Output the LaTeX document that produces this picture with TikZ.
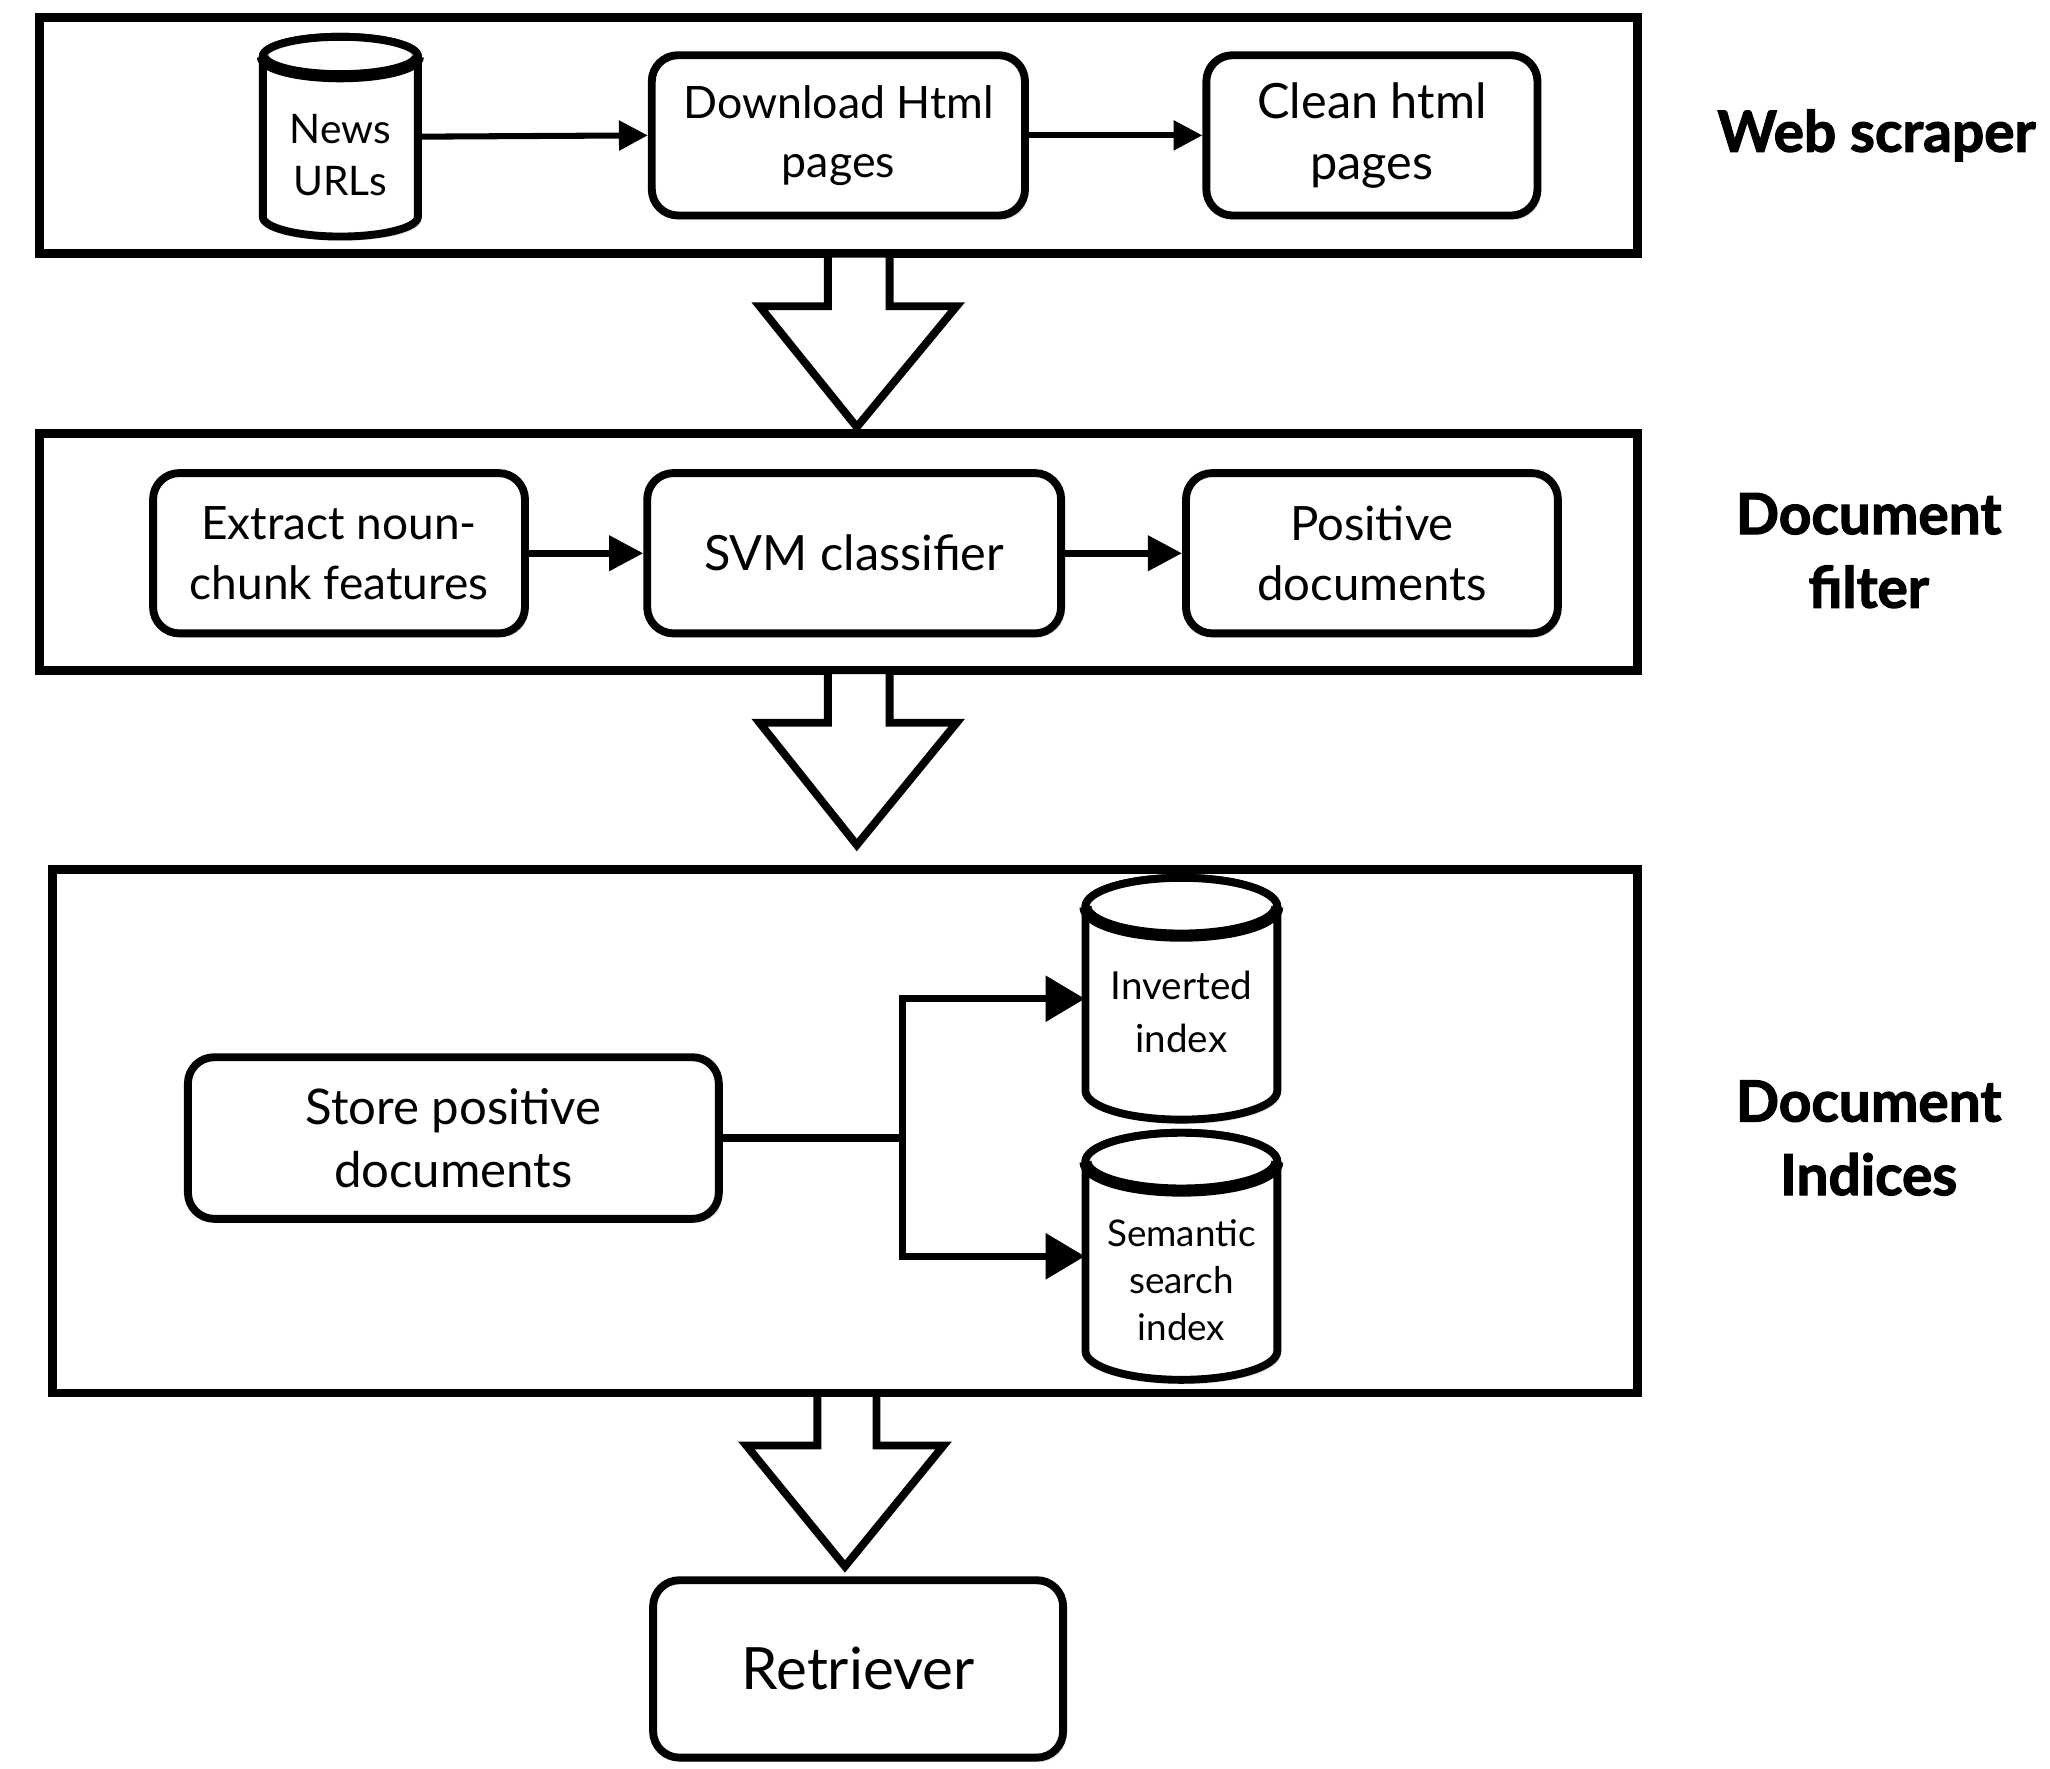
\documentclass[tikz,border=0pt]{standalone}
\usepackage{fontspec}
\setmainfont{Lato}
\newfontfamily\heavyfont[BoldFeatures={FakeBold=2}]{Lato}
\usetikzlibrary{arrows.meta,shadows,calc}
\def\pxu{0.5pt}
\tikzset{
  x=0.5pt, y=0.5pt,
  shad/.style={drop shadow={shadow xshift=1.2pt, shadow yshift=-1.6pt, opacity=0.22}},
  outerbox/.style={draw, line width=3.4pt, fill=white, rectangle, inner sep=0pt, shad},
  rbox/.style={draw, line width=3pt, fill=white, rounded corners=10pt, align=center, inner sep=0pt, shad},
  cylbody/.style={inner sep=0pt, draw=none, rectangle},
  cyltext/.style={align=center, inner sep=0pt},
  cylline/.style={line width=3pt, fill=white},
  conn/.style={line width=2.3pt, -{Triangle[length=11pt,width=11pt]}},
  connb/.style={line width=2.6pt, -{Triangle[length=13pt,width=13pt]}},
  connc/.style={line width=2.8pt, -{Triangle[length=15pt,width=17pt]}},
  bigarrow/.style={line width=3pt, fill=white, line join=miter},
  sidelabel/.style={align=center, font=\fontsize{21.6}{28}\selectfont\heavyfont\bfseries, inner sep=0pt},
}
\newcommand\cylshape[5]{%
  \filldraw[cylline, shad] (#1-#4, -#2-#5) -- (#1-#4, -#3+#5)
     arc[start angle=180, end angle=360, x radius=#4, y radius=#5]
     -- (#1+#4, -#2-#5) arc[start angle=0, end angle=180, x radius=#4, y radius=#5] -- cycle;
  \draw[cylline] (#1, -#2-#5) ellipse[x radius=#4, y radius=#5];
  \draw[line width=4.6pt] (#1-#4, -#2-#5) arc[start angle=180, end angle=360, x radius=#4, y radius=#5];
}
\begin{document}
\begin{tikzpicture}
\useasboundingbox (0,0) rectangle (1560,-1346);
% outer boxes
\node[outerbox, minimum width={1216*\pxu}, minimum height={180*\pxu}] (box1) at (638,-103) {};
\node[outerbox, minimum width={1216*\pxu}, minimum height={180*\pxu}] (box2) at (638,-420) {};
\node[outerbox, minimum width={1206*\pxu}, minimum height={398*\pxu}] (box3) at (643,-861) {};

% big arrows
\draw[bigarrow] (630,-193) -- (630,-233) -- (578,-233) -- (652,-325) -- (728,-233) -- (677,-233) -- (677,-193) -- cycle;
\draw[bigarrow] (630,-510) -- (630,-550) -- (578,-550) -- (652,-643) -- (728,-550) -- (677,-550) -- (677,-510) -- cycle;
\draw[bigarrow] (622,-1060) -- (622,-1100) -- (568,-1100) -- (643,-1192) -- (718,-1100) -- (667,-1100) -- (667,-1060) -- cycle;

% box 1
\cylshape{259}{28}{180}{59}{15}
\node[cylbody, minimum width={118*\pxu}, minimum height={152*\pxu}] (urls) at (259,-104) {};
\node[cyltext, font=\fontsize{15.5}{20}\selectfont] (urlsT) at (259,-118) {News\\URLs};
\node[rbox, minimum width={284*\pxu}, minimum height={122*\pxu}, font=\fontsize{17}{22.5}\selectfont] (dl) at (638,-103) {Download Html\\pages};
\node[rbox, minimum width={252*\pxu}, minimum height={122*\pxu}, font=\fontsize{18.5}{23}\selectfont] (clean) at (1044,-103) {Clean html\\pages};
\draw[conn] (urls.east) -- (dl.west);
\draw[conn] (dl.east) -- (clean.west);

% box 2
\node[rbox, minimum width={283*\pxu}, minimum height={122*\pxu}, font=\fontsize{17.5}{23}\selectfont] (ext) at (258,-421) {Extract noun-\\chunk features};
\node[rbox, minimum width={315*\pxu}, minimum height={122*\pxu}, font=\fontsize{18.5}{23}\selectfont] (svm) at (650,-421) {SVM classifier};
\node[rbox, minimum width={283*\pxu}, minimum height={122*\pxu}, font=\fontsize{18}{23}\selectfont] (pos) at (1044,-421) {Positive\\documents};
\draw[connb] (ext.east) -- (svm.west);
\draw[connb] (svm.east) -- (pos.west);

% box 3
\node[rbox, minimum width={404*\pxu}, minimum height={123*\pxu}, font=\fontsize{18.7}{24}\selectfont] (store) at (345,-866) {Store positive\\documents};
\cylshape{899}{668}{852}{73}{22}
\node[cylbody, minimum width={146*\pxu}, minimum height={184*\pxu}] (inv) at (899,-760) {};
\node[cyltext, font=\fontsize{14.7}{20}\selectfont] (invT) at (899,-770) {Inverted\\index};
\cylshape{899}{862}{1050}{73}{22}
\node[cylbody, minimum width={146*\pxu}, minimum height={188*\pxu}] (sem) at (899,-956) {};
\node[cyltext, font=\fontsize{14}{18}\selectfont] (semT) at (899,-974) {Semantic\\search\\index};
\coordinate (j) at (687,-861);
\draw[line width=2.8pt] (store.east) -- (store.east -| j);
\draw[connc] (store.east -| j) |- (inv.west);
\draw[connc] (store.east -| j) |- (sem.west);

% retriever
\node[rbox, minimum width={312*\pxu}, minimum height={135*\pxu}, font=\fontsize{22.2}{26}\selectfont] (ret) at (653,-1270) {Retriever};

% side labels
\node[sidelabel] (lab1) at (1428,-103) {Web scraper};
\node[sidelabel] (lab2) at (1422,-419) {Document\\filter};
\node[sidelabel] (lab3) at (1422,-866) {Document\\Indices};
\end{tikzpicture}
\end{document}
